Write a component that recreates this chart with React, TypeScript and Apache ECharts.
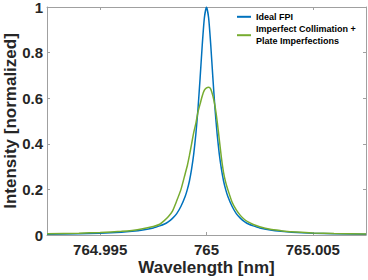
import React, { useEffect, useRef } from "react";
import * as echarts from "echarts";

const xTickValues = [764.995, 765, 765.005];
const yTickLabels = ["0", "0.2", "0.4", "0.6", "0.8", "1"];

const offsets = [
  -0.0075, -0.006, -0.005, -0.004, -0.0035, -0.003, -0.0025, -0.0022, -0.002, -0.0018,
  -0.0016, -0.0014, -0.0012, -0.001, -0.0009, -0.0008, -0.0007, -0.0006, -0.0005, -0.0004,
  -0.0003, -0.0002, -0.0001, 0, 0.0001, 0.0002, 0.0003, 0.0004, 0.0005, 0.0006,
  0.0007, 0.0008, 0.0009, 0.001, 0.0012, 0.0014, 0.0016, 0.0018, 0.002, 0.0022,
  0.0025, 0.003, 0.0035, 0.004, 0.005, 0.006, 0.0075,
];

const idealFPI = [
  0.0035, 0.0055, 0.008, 0.012, 0.016, 0.022, 0.031, 0.04, 0.047, 0.058,
  0.073, 0.094, 0.126, 0.17, 0.2, 0.238, 0.29, 0.356, 0.443, 0.554,
  0.689, 0.833, 0.952, 1.0, 0.952, 0.833, 0.689, 0.554, 0.443, 0.356,
  0.29, 0.238, 0.2, 0.17, 0.126, 0.094, 0.073, 0.058, 0.047, 0.04,
  0.031, 0.022, 0.016, 0.012, 0.008, 0.0055, 0.0035,
];

const imperfect = [
  0.006, 0.008, 0.011, 0.016, 0.02, 0.027, 0.037, 0.047, 0.062, 0.08,
  0.105, 0.15, 0.2, 0.27, 0.305, 0.35, 0.4, 0.45, 0.49, 0.54,
  0.575, 0.61, 0.635, 0.645, 0.648, 0.64, 0.61, 0.565, 0.5, 0.42,
  0.34, 0.275, 0.232, 0.2, 0.145, 0.11, 0.085, 0.067, 0.055, 0.046,
  0.036, 0.025, 0.019, 0.014, 0.009, 0.0065, 0.0045,
];

const centerWavelength = 765;
const seriesNames = ["Ideal FPI", "Imperfect Collimation +\nPlate Imperfections"];

const FONT = "Liberation Sans, Arial, Helvetica, sans-serif";
const AXIS_COLOR = "#a0a0a0";
const TEXT_COLOR = "#262626";

export default function App() {
  const ref = useRef<HTMLDivElement>(null);

  useEffect(() => {
    if (!ref.current) return;
    const chart = echarts.init(ref.current, undefined, { renderer: "svg" });

    const toPairs = (vals: number[]) =>
      offsets.map((o, i) => [centerWavelength + o, vals[i]]);

    const xFmt = (v: number) => String(Math.round(v * 1000) / 1000);

    const baseX = {
      type: "value" as const,
      min: 764.9925,
      max: 765.0075,
      splitLine: { show: false },
      axisLine: { show: true, onZero: false, lineStyle: { color: AXIS_COLOR, width: 1 } },
      axisTick: {
        show: true,
        inside: true,
        length: 3,
        customValues: xTickValues,
        lineStyle: { color: AXIS_COLOR },
      },
    };
    const baseY = {
      type: "value" as const,
      min: 0,
      max: 1,
      interval: 0.2,
      splitLine: { show: false },
      axisLine: { show: true, onZero: false, lineStyle: { color: AXIS_COLOR, width: 1 } },
      axisTick: { show: true, inside: true, length: 3, lineStyle: { color: AXIS_COLOR } },
    };

    chart.setOption({
      animation: false,
      textStyle: { fontFamily: FONT },
      grid: { left: 47, right: 2, top: 7, bottom: 45, outerBoundsMode: "none" },
      legend: {
        orient: "vertical",
        left: 232,
        top: 6,
        itemWidth: 14,
        itemHeight: 2,
        itemGap: 1,
        icon: "rect",
        data: seriesNames,
        textStyle: {
          fontFamily: FONT,
          fontSize: 9,
          fontWeight: "bold",
          color: "#000",
          lineHeight: 11.6,
        },
      },
      xAxis: [
        {
          ...baseX,
          position: "bottom",
          name: "Wavelength [nm]",
          nameLocation: "middle",
          nameGap: 24,
          nameMoveOverlap: false,
          nameTextStyle: { fontFamily: FONT, fontSize: 17, fontWeight: "bold", color: TEXT_COLOR },
          axisLabel: {
            show: true,
            customValues: xTickValues,
            formatter: xFmt,
            margin: 7,
            fontFamily: FONT,
            fontSize: 15,
            fontWeight: "bold",
            color: TEXT_COLOR,
          },
        },
        {
          ...baseX,
          position: "top",
          axisLabel: { show: false },
        },
      ],
      yAxis: [
        {
          ...baseY,
          position: "left",
          name: "Intensity [normalized]",
          nameLocation: "middle",
          nameGap: 28,
          nameMoveOverlap: false,
          nameTextStyle: { fontFamily: FONT, fontSize: 17, fontWeight: "bold", color: TEXT_COLOR },
          axisLabel: {
            show: true,
            margin: 4,
            fontFamily: FONT,
            fontSize: 15,
            lineHeight: 12,
            fontWeight: "bold",
            color: TEXT_COLOR,
            formatter: (v: number) => yTickLabels[Math.round(v * 5)] ?? String(v),
          },
        },
        {
          ...baseY,
          position: "right",
          axisLabel: { show: false },
        },
      ],
      series: [
        {
          name: seriesNames[0],
          type: "line",
          xAxisIndex: 0,
          yAxisIndex: 0,
          data: toPairs(idealFPI),
          showSymbol: false,
          smooth: 0.2,
          lineStyle: { color: "#0072BD", width: 1.5 },
          itemStyle: { color: "#0072BD" },
        },
        {
          name: seriesNames[1],
          type: "line",
          xAxisIndex: 0,
          yAxisIndex: 0,
          data: toPairs(imperfect),
          showSymbol: false,
          smooth: 0.2,
          lineStyle: { color: "#77AC30", width: 1.5 },
          itemStyle: { color: "#77AC30" },
        },
      ],
    });

    return () => chart.dispose();
  }, []);

  return (
    <div
      ref={ref}
      style={{ position: "fixed", left: 0, top: 0, width: 368, height: 280, background: "#fff" }}
    />
  );
}
